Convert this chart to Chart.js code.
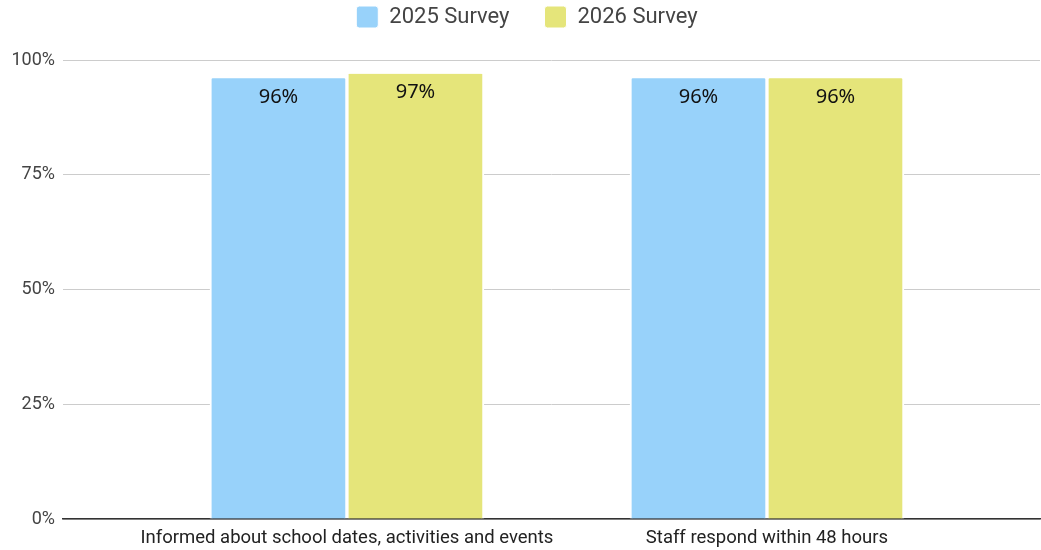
<!DOCTYPE html>
<html>
<head>
<meta charset="utf-8">
<script src="https://cdn.jsdelivr.net/npm/chart.js@4"></script>
<style>
  html, body { margin: 0; padding: 0; background: #fff; }
  #wrap { width: 1041px; height: 550px; }
</style>
</head>
<body>
<div id="wrap"><canvas id="myChartCanvas"></canvas></div>
<script>
// chart data
const categories = ['Informed about school dates, activities and events', 'Staff respond within 48 hours'];
const seriesNames = ['2025 Survey', '2026 Survey'];
const survey2025 = [96, 96];
const survey2026 = [97, 96];
const yTicks = [0, 25, 50, 75, 100];

const colors = ['#98d2fa', '#e5e57a'];
const LEGEND_PAD = 35;

// percent labels inside the top of each bar
const barLabels = {
  id: 'barLabels',
  afterDatasetsDraw(chart) {
    const ctx = chart.ctx;
    ctx.save();
    ctx.font = '20px "Noto Sans", "Open Sans", sans-serif';
    ctx.fillStyle = '#111';
    ctx.textAlign = 'center';
    ctx.textBaseline = 'middle';
    chart.data.datasets.forEach((ds, i) => {
      chart.getDatasetMeta(i).data.forEach((bar, j) => {
        ctx.fillText(ds.data[j].y + '%', bar.x, bar.y + 19);
      });
    });
    ctx.restore();
  }
};

// legend sits in a fixed 60px band above the plot; the wide item padding
// is only wanted horizontally, so pull the drawing back up
const legendBand = {
  id: 'legendBand',
  beforeLayout(chart) {
    const lg = chart.legend;
    if (lg && !lg._bandPatched) {
      const fit = lg.fit.bind(lg);
      lg.fit = function () { fit(); this.height = 60; };
      const draw = lg.draw.bind(lg);
      lg.draw = function () {
        const ctx = this.ctx;
        ctx.save();
        ctx.translate(7, 6 - LEGEND_PAD);
        draw();
        ctx.restore();
      };
      lg._bandPatched = true;
    }
  }
};

const toPoints = (vals) => vals.map((v, i) => ({ x: i + 1, y: v }));

let canvas = document.getElementById('myChartCanvas');
let myChart = new Chart(canvas, {
  type: 'bar',
  data: {
    datasets: [survey2025, survey2026].map((vals, i) => ({
      label: seriesNames[i],
      data: toPoints(vals),
      backgroundColor: colors[i],
      borderColor: '#fff',
      borderWidth: { left: 2, right: 2, top: 0, bottom: 0 },
      borderRadius: { topLeft: 3, topRight: 3 },
      borderSkipped: 'bottom',
      barThickness: 137
    }))
  },
  options: {
    responsive: true,
    maintainAspectRatio: false,
    animation: false,
    layout: { padding: { top: 0, right: 1, left: 0, bottom: 0 } },
    plugins: {
      tooltip: { enabled: false },
      legend: {
        position: 'top',
        labels: {
          boxWidth: 22,
          boxHeight: 22,
          useBorderRadius: true,
          borderRadius: 3,
          padding: LEGEND_PAD,
          color: '#444',
          font: { family: 'Roboto', size: 22 }
        }
      }
    },
    scales: {
      x: {
        type: 'linear',
        min: 0.324,
        max: 2.65,
        offset: false,
        afterBuildTicks: (scale) => { scale.ticks = categories.map((c, i) => ({ value: i + 1 })); },
        afterFit: (scale) => { scale.height = 31; },
        grid: { display: false, drawTicks: false },
        border: { color: '#333', width: 1.5 },
        ticks: {
          callback: (v) => categories[v - 1],
          color: '#222',
          font: { family: 'Roboto', size: 18.5 },
          padding: 8,
          maxRotation: 0,
          autoSkip: false
        }
      },
      y: {
        min: 0,
        max: 100,
        afterBuildTicks: (scale) => { scale.ticks = yTicks.map(v => ({ value: v })); },
        afterFit: (scale) => { scale.width = 63; },
        grid: { color: '#cccccc', drawTicks: false },
        border: { display: false },
        ticks: {
          callback: (v) => v + '%',
          color: '#444',
          font: { family: 'Roboto', size: 18 },
          padding: 8
        }
      }
    }
  },
  plugins: [barLabels, legendBand]
});
</script>
</body>
</html>
